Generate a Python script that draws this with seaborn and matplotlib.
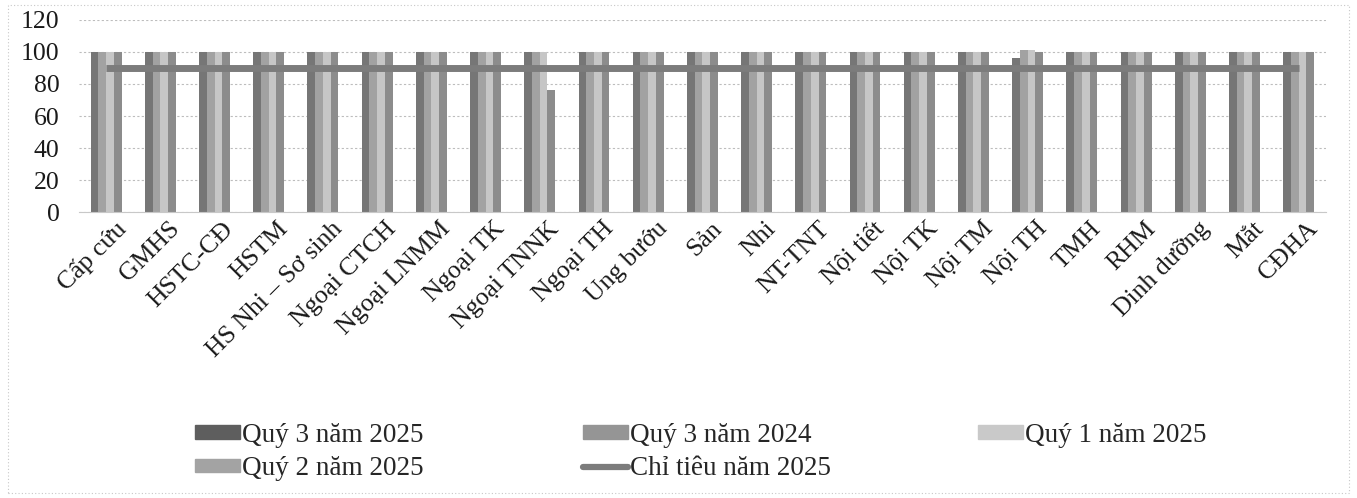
import numpy as np
import pandas as pd
import seaborn as sns
import matplotlib.pyplot as plt
import matplotlib.transforms as mtrans
from matplotlib.lines import Line2D

categories = ['Cấp cứu', 'GMHS', 'HSTC-CĐ', 'HSTM', 'HS Nhi – Sơ sinh', 'Ngoại CTCH',
              'Ngoại LNMM', 'Ngoại TK', 'Ngoại TNNK', 'Ngoại TH', 'Ung bướu', 'Sản',
              'Nhi', 'NT-TNT', 'Nội tiết', 'Nội TK', 'Nội TM', 'Nội TH', 'TMH', 'RHM',
              'Dinh dưỡng', 'Mắt', 'CĐHA']

q3_2025 = [100, 100, 100, 100, 100, 100, 100, 100, 100, 100, 100, 100,
           100, 100, 100, 100, 100, 96, 100, 100, 100, 100, 100]
q3_2024 = [100, 100, 100, 100, 100, 100, 100, 100, 100, 100, 100, 100,
           100, 100, 100, 100, 100, 101.5, 100, 100, 100, 100, 100]
q1_2025 = [100, 100, 100, 100, 100, 100, 100, 100, 100, 100, 100, 100,
           100, 100, 100, 100, 100, 101.5, 100, 100, 100, 100, 100]
q2_2025 = [100, 100, 100, 100, 100, 100, 100, 100, 76, 100, 100, 100,
           100, 100, 100, 100, 100, 100, 100, 100, 100, 100, 100]
target_2025 = [90] * len(categories)

series_names = ['Quý 3 năm 2025', 'Quý 3 năm 2024', 'Quý 1 năm 2025', 'Quý 2 năm 2025']
series_colors = ['#767676', '#a2a2a2', '#c6c6c6', '#8c8c8c']
legend_colors = ['#5e5e5e', '#959595', '#c9c9c9', '#a3a3a3']
line_name = 'Chỉ tiêu năm 2025'
line_color = '#7c7c7c'


def add_legend_column(fig, handles, labels, x_px, y_px):
	W, H = fig.get_size_inches() * fig.dpi
	leg = fig.legend(handles, labels, loc='center left', bbox_to_anchor=(x_px / W, 1 - y_px / H),
		frameon=False, fontsize=19.5, handlelength=1.65, handleheight=0.4,
		handletextpad=0.08, labelspacing=0.3, borderpad=0, borderaxespad=0)
	return leg


def main():
	sns.set_style('white')
	plt.rcParams['font.family'] = ['Liberation Serif', 'DejaVu Serif']

	# long form table for seaborn
	df = pd.DataFrame({
		'Khoa': categories * 4,
		'Giá trị': q3_2025 + q3_2024 + q1_2025 + q2_2025,
		'Kỳ': sum([[s] * len(categories) for s in series_names], []),
	})

	fig = plt.figure(figsize=(13.57, 4.98), dpi=100)
	ax = fig.add_axes([0.0582, 0.574, 0.9188, 0.386])

	sns.barplot(data=df, x='Khoa', y='Giá trị', hue='Kỳ', hue_order=series_names,
		palette=series_colors, width=0.57, gap=0, saturation=1, errorbar=None,
		edgecolor='none', linewidth=0, legend=False, ax=ax, zorder=2)

	xs = np.arange(len(categories))
	ax.plot(xs, target_2025, color=line_color, lw=5, zorder=3, solid_capstyle='butt')

	ax.set_ylim(0, 120)
	ax.set_yticks(range(0, 121, 20))
	ax.set_xlim(-0.5, len(categories) - 0.5)
	ax.yaxis.grid(True, color='#bdbdbd', linestyle=(0, (2, 2)), linewidth=0.8, zorder=0)
	ax.set_axisbelow(True)
	for s in ['top', 'right', 'left']:
		ax.spines[s].set_visible(False)
	ax.spines['bottom'].set_color('#c8c8c8')
	ax.tick_params(axis='both', length=0, labelsize=18.5, colors='#1a1a1a')
	ax.tick_params(axis='y', pad=14)
	ax.tick_params(axis='x', pad=4)
	ax.set_xlabel('')
	ax.set_ylabel('')
	shift = mtrans.ScaledTranslation(8 / 100, 0, fig.dpi_scale_trans)
	for lab in ax.get_xticklabels():
		lab.set_rotation(45)
		lab.set_ha('right')
		lab.set_rotation_mode('anchor')
		lab.set_transform(lab.get_transform() + shift)

	handles = [plt.Rectangle((0, 0), 1, 1, color=c) for c in legend_colors]
	line_handle = Line2D([0], [0], color=line_color, lw=4.5)
	# one legend per column so the columns sit where they are in the original
	add_legend_column(fig, [handles[0], handles[3]], [series_names[0], series_names[3]], 195, 452)
	add_legend_column(fig, [handles[1], line_handle], [series_names[1], line_name], 583, 452)
	add_legend_column(fig, [handles[2]], [series_names[2]], 978, 435)

	fig.patches.append(plt.Rectangle((0.006, 0.01), 0.988, 0.98, transform=fig.transFigure,
		fill=False, edgecolor='#c8c8c8', linestyle=(0, (1, 2)), linewidth=0.8))

	fig.savefig('out.png', dpi=100)


if __name__ == '__main__':
	main()
